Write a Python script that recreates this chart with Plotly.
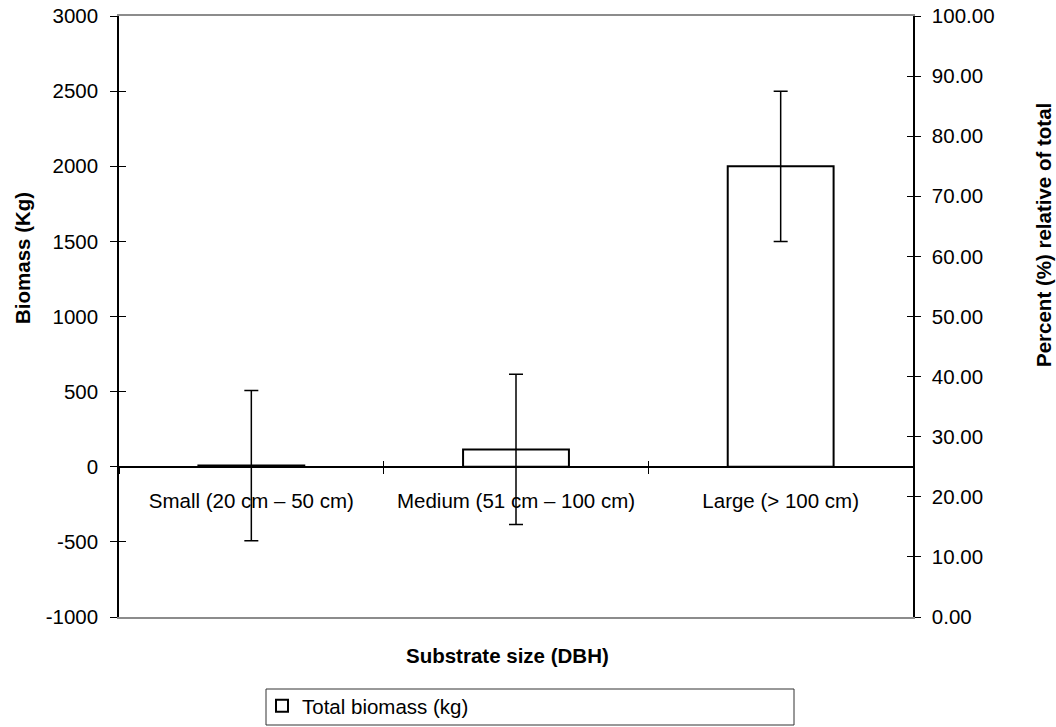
import plotly.graph_objects as go

categories = ["Small (20 cm \u2013 50 cm)", "Medium (51 cm \u2013 100 cm)", "Large (> 100 cm)"]
biomass = [8, 115, 2000]
biomass_err = [500, 500, 500]
left_ticks = [-1000, -500, 0, 500, 1000, 1500, 2000, 2500, 3000]
left_tick_labels = ["-1000", "-500", "0", "500", "1000", "1500", "2000", "2500", "3000"]
left_range = [-1000, 3000]
right_range = [0, 100]
series_name = "Total biomass (kg)"

FONT = "Liberation Sans, Arial, sans-serif"
FS = 20.5

# plot-area pixel geometry helpers (layout only)
PL, PR, PT, PB = 119, 913, 16, 617
def px_x(v):
    return (v - PL) / (PR - PL)
def px_y(v):
    return (PB - v) / (PB - PT)

fig = go.Figure()
fig.add_trace(go.Bar(
    x=categories, y=biomass, name=series_name,
    marker=dict(color="white", line=dict(color="black", width=2)),
    error_y=dict(type="data", array=biomass_err, visible=True,
                 color="black", thickness=1.5, width=7),
    width=0.4, showlegend=True,
))
fig.add_trace(go.Scatter(x=[None], y=[None], yaxis="y2", showlegend=False, hoverinfo="skip"))

zero_pos = (0 - left_range[0]) / (left_range[1] - left_range[0])

fig.update_layout(
    width=1056, height=727,
    margin=dict(l=PL, r=1056 - PR, t=PT, b=727 - PB, autoexpand=False),
    paper_bgcolor="white", plot_bgcolor="white",
    font=dict(family=FONT, size=FS, color="black"),
    showlegend=True,
    legend=dict(x=px_x(262), y=px_y(686), xanchor="left", yanchor="top",
                orientation="h", borderwidth=0, bgcolor="rgba(0,0,0,0)",
                font=dict(family=FONT, size=FS)),
    shapes=[dict(type="rect", xref="paper", yref="paper",
                 x0=px_x(266), x1=px_x(794), y0=px_y(725), y1=px_y(689),
                 line=dict(color="#333333", width=1), fillcolor="rgba(0,0,0,0)", layer="below")],
    xaxis=dict(type="category", range=[-0.5, 2.5], anchor="free", position=zero_pos,
               showline=True, linecolor="black", linewidth=1.5,
               ticks="outside", ticklen=6, tickcolor="black", tickwidth=1,
               tickson="boundaries", showgrid=False, zeroline=False,
               ticklabelstandoff=16, tickfont=dict(family=FONT, size=FS)),
    xaxis2=dict(type="linear", range=[-0.5, 2.5], overlaying="x", anchor="free", position=zero_pos,
                showline=False, ticks="inside", ticklen=6, tickcolor="black", tickwidth=1,
                tickvals=[0.5, 1.5], showticklabels=False, showgrid=False, zeroline=False),
    xaxis3=dict(type="linear", range=[-0.5, 2.5], overlaying="x", anchor="y",
                showline=True, mirror=True, linecolor="#8c8c8c", linewidth=2,
                ticks="", showticklabels=False, showgrid=False, zeroline=False),
    yaxis=dict(range=left_range, tickvals=left_ticks, ticktext=left_tick_labels,
               showline=True, linecolor="black", linewidth=1.5,
               ticks="outside", ticklen=7, tickcolor="black", showgrid=False, zeroline=False,
               ticklabelstandoff=8, tickfont=dict(family=FONT, size=FS)),
    yaxis3=dict(range=left_range, tickvals=left_ticks, overlaying="y", side="left", anchor="x",
                ticks="inside", ticklen=7, tickcolor="black", showticklabels=False,
                showgrid=False, zeroline=False, showline=False),
    yaxis2=dict(range=right_range, dtick=10, tickformat=".2f", overlaying="y", side="right",
                anchor="x", showline=True, linecolor="black", linewidth=1.5,
                ticks="outside", ticklen=6, tickcolor="black", showgrid=False, zeroline=False,
                ticklabelstandoff=7, tickfont=dict(family=FONT, size=FS)),
    yaxis4=dict(range=right_range, dtick=10, overlaying="y", side="right", anchor="x",
                ticks="inside", ticklen=6, tickcolor="black", showticklabels=False,
                showgrid=False, zeroline=False, showline=False),
    annotations=[
        dict(text="<b>Biomass (Kg)</b>", xref="paper", yref="paper",
             x=px_x(22), y=px_y(258), textangle=-90, showarrow=False,
             xanchor="center", yanchor="middle", font=dict(family=FONT, size=FS)),
        dict(text="<b>Percent (%) relative of total</b>", xref="paper", yref="paper",
             x=px_x(1043), y=px_y(235), textangle=-90, showarrow=False,
             xanchor="center", yanchor="middle", font=dict(family=FONT, size=FS)),
        dict(text="<b>Substrate size (DBH)</b>", xref="paper", yref="paper",
             x=px_x(507), y=px_y(655), showarrow=False,
             xanchor="center", yanchor="middle", font=dict(family=FONT, size=FS)),
    ],
)
fig.add_trace(go.Scatter(x=[None], y=[None], xaxis="x2", yaxis="y3", showlegend=False, hoverinfo="skip"))
fig.add_trace(go.Scatter(x=[None], y=[None], xaxis="x3", yaxis="y4", showlegend=False, hoverinfo="skip"))

fig.write_html("out.html", config={"displayModeBar": False},
               post_script="document.body.style.margin='0px';document.body.style.overflow='hidden';")
